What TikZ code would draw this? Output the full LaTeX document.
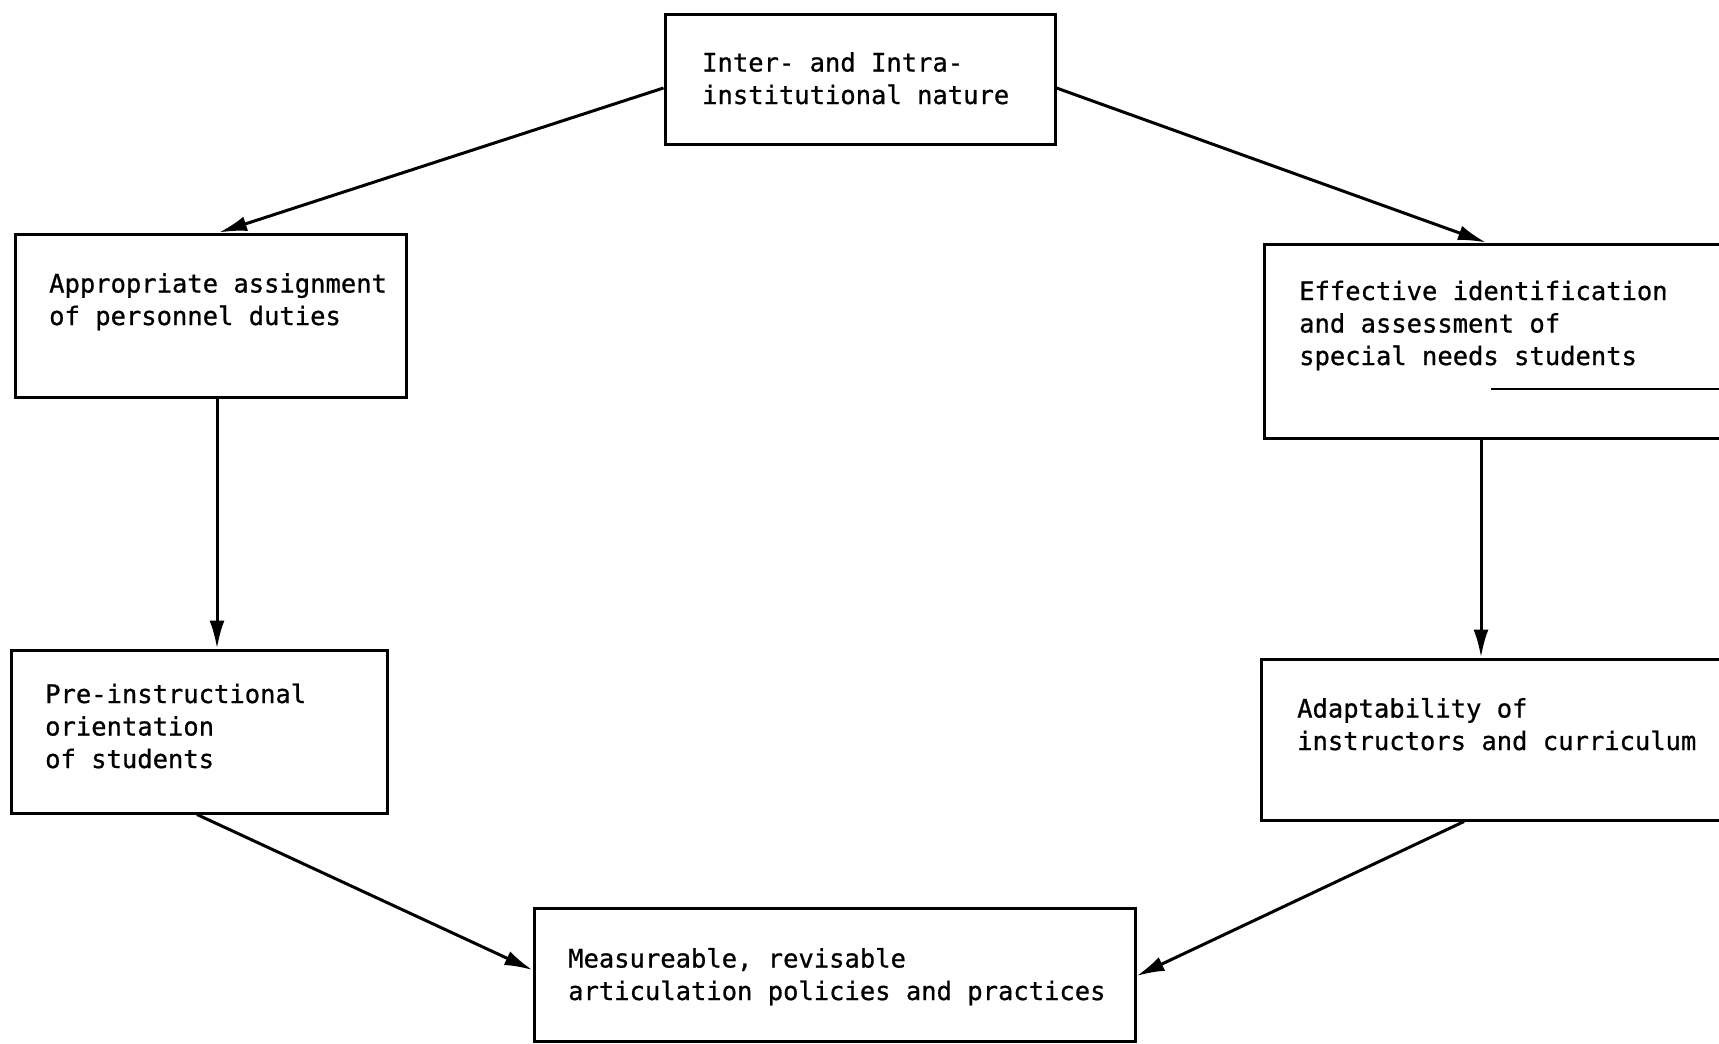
\documentclass[tikz,border=0pt]{standalone}
\usepackage{fontspec}
\newfontfamily\twfont[FakeBold=0.8]{DejaVu Sans Mono}
\usetikzlibrary{arrows.meta}
\begin{document}
\begin{tikzpicture}[x=1pt,y=-1pt,
  box/.style={draw=black, line width=3pt, rectangle, inner sep=0pt},
  lbl/.style={inner sep=0pt, anchor=base west, align=left, font=\twfont\fontsize{25.5}{32.5}\selectfont},
  conn/.style={draw=black, line width=3pt, -{Latex[length=28pt,width=15pt]}}]
\useasboundingbox[fill=white] (0,0) rectangle (1719,1044);
% boxes
\node[box, minimum width=390pt, minimum height=130pt] (tb) at (860,79) {};
\node[box, minimum width=391pt, minimum height=163pt] (lb1) at (210.5,315.5) {};
\node[box, minimum width=376pt, minimum height=163pt] (lb2) at (199,731.5) {};
\node[box, minimum width=461pt, minimum height=194pt] (rb1) at (1494.5,341) {};
\node[box, minimum width=464pt, minimum height=161pt] (rb2) at (1493,739.5) {};
\node[box, minimum width=601pt, minimum height=133pt] (bb) at (834.5,974.5) {};
% texts (anchored at the baseline of their last line)
\node[lbl] (ttb) at (702,104) {Inter- and Intra-\\institutional nature};
\node[lbl] (tlb1) at (49,325) {Appropriate assignment\\of personnel duties};
\node[lbl] (tlb2) at (45,768) {Pre-instructional\\orientation\\of students};
\node[lbl] (trb1) at (1299,365) {Effective identification\\and assessment of\\special needs students};
\node[lbl] (trb2) at (1297,750) {Adaptability of\\instructors and curriculum};
\node[lbl] (tbb) at (568,1000) {Measureable, revisable\\articulation policies and practices};
% stray rule inside right upper box
\draw[line width=1.8pt] (1491,389) -- (1725,389);
% connectors
\draw[conn] ([yshift=-9pt]tb.west) -- ([xshift=8.5pt]lb1.north);
\draw[conn] ([yshift=-9pt]tb.east) -- ([xshift=-8.5pt]rb1.north);
\draw[conn] ([xshift=6.5pt]lb1.south) -- ([xshift=18pt]lb2.north);
\draw[conn] ([xshift=-13.5pt]rb1.south) -- ([xshift=-12pt]rb2.north);
\draw[conn] ([xshift=-2pt]lb2.south) -- ([yshift=4.5pt]bb.west);
\draw[conn] ([xshift=-29pt]rb2.south) -- ([yshift=-1.5pt]bb.east);
\end{tikzpicture}
\end{document}
